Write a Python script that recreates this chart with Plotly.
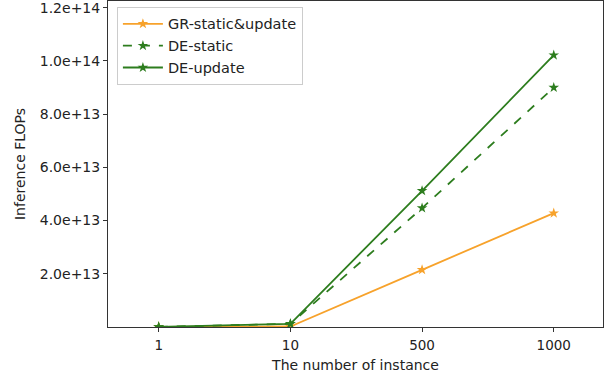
import plotly.graph_objects as go

categories = ["1", "10", "500", "1000"]
gr_static_update = [0.002e13, 0.02e13, 2.15e13, 4.28e13]
de_static = [0.005e13, 0.12e13, 4.47e13, 9.0e13]
de_update = [0.005e13, 0.12e13, 5.12e13, 1.022e14]
y_tickvals = [2e13, 4e13, 6e13, 8e13, 1.0e14, 1.2e14]
y_ticktext = ["2.0e+13", "4.0e+13", "6.0e+13", "8.0e+13", "1.0e+14", "1.2e+14"]

ORANGE = "#F7A22B"
GREEN = "#2D7D1E"

fig = go.Figure()
fig.add_trace(go.Scatter(x=categories, y=gr_static_update, name="GR-static&update",
                         mode="lines+markers", line=dict(color=ORANGE, width=1.8),
                         marker=dict(symbol="star", size=8, color=ORANGE)))
fig.add_trace(go.Scatter(x=categories, y=de_static, name="DE-static",
                         mode="lines+markers", line=dict(color=GREEN, width=1.8, dash="dash"),
                         marker=dict(symbol="star", size=8, color=GREEN)))
fig.add_trace(go.Scatter(x=categories, y=de_update, name="DE-update",
                         mode="lines+markers", line=dict(color=GREEN, width=1.8),
                         marker=dict(symbol="star", size=8, color=GREEN)))

font = dict(family="DejaVu Sans", size=14, color="#222")
fig.update_layout(
    width=610, height=380,
    margin=dict(l=108, r=7, t=1, b=53),
    paper_bgcolor="white", plot_bgcolor="white",
    font=font,
    showlegend=True,
    legend=dict(x=0.018, y=0.982, xanchor="left", yanchor="top",
                bgcolor="white", bordercolor="#cccccc", borderwidth=1,
                font=dict(family="DejaVu Sans", size=14.5, color="#222"),
                tracegroupgap=0, itemwidth=40),
    xaxis=dict(type="category", range=[-0.385, 3.374], automargin=False,
               showline=True, linecolor="#333", linewidth=1, mirror=True,
               ticks="outside", ticklen=4, tickcolor="#333", showgrid=False, zeroline=False,
               ticklabelstandoff=2,
               tickfont=dict(family="DejaVu Sans", size=13.5, color="#222"),
               title=dict(text="The number of instance", standoff=7,
                          font=dict(family="DejaVu Sans", size=14, color="#222"))),
    yaxis=dict(range=[0, 1.2255e14], tickvals=y_tickvals, ticktext=y_ticktext, automargin=False,
               showline=True, linecolor="#333", linewidth=1, mirror=True,
               ticks="outside", ticklen=4, tickcolor="#333", showgrid=False, zeroline=False,
               ticklabeloverflow="allow",
               tickfont=dict(family="DejaVu Sans", size=14, color="#222"),
               title=dict(text="Inference FLOPs", standoff=10,
                          font=dict(family="DejaVu Sans", size=14, color="#222"))),
)
fig.write_html("out.html", config={"displayModeBar": False},
               post_script="document.body.style.margin='0';document.body.style.padding='0';")
